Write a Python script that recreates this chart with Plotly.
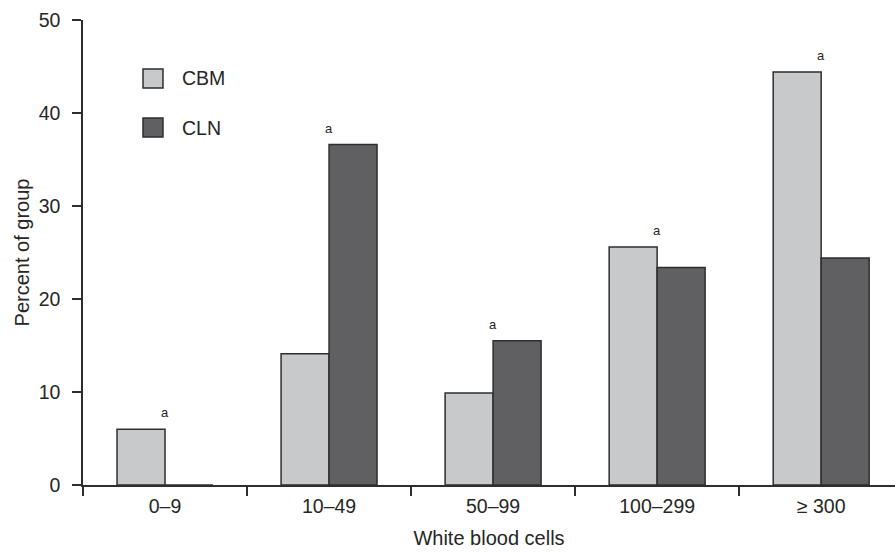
import plotly.graph_objects as go

categories = ["0–9", "10–49", "50–99", "100–299", "≥ 300"]
series_names = ["CBM", "CLN"]
cbm_values = [6.0, 14.1, 9.9, 25.6, 44.4]
cln_values = [0.0, 36.6, 15.5, 23.4, 24.4]
sig_marks = ["a", "a", "a", "a", "a"]
y_ticks = [0, 10, 20, 30, 40, 50]

colors = ["#c8c9cb", "#606062"]
edge = "#2e2e2e"
font_family = "Liberation Sans, Arial, Helvetica, sans-serif"
text_color = "#262626"

fig = go.Figure()
for name, vals, col in zip(series_names, [cbm_values, cln_values], colors):
    fig.add_trace(go.Bar(
        x=categories, y=vals, name=name,
        marker=dict(color=col, line=dict(color=edge, width=1.5)),
        showlegend=False,
    ))

# significance marks above each group
for cat, a, b, mark in zip(categories, cbm_values, cln_values, sig_marks):
    fig.add_annotation(
        x=cat, y=max(a, b), text=mark, showarrow=False,
        xanchor="center", yanchor="bottom", yshift=7,
        font=dict(size=13, color=text_color, family=font_family),
    )

# manual legend (large square swatches)
legend_rows = [0.8742, 0.7688]
for name, col, yc in zip(series_names, colors, legend_rows):
    fig.add_shape(
        type="rect", xref="paper", yref="paper",
        x0=0.0739, x1=0.0985, y0=yc - 0.0205, y1=yc + 0.0205,
        fillcolor=col, line=dict(color=edge, width=1.5),
    )
    fig.add_annotation(
        x=0.1195, y=yc, xref="paper", yref="paper", text=name,
        showarrow=False, xanchor="left", yanchor="middle",
        font=dict(size=19.5, color=text_color, family=font_family),
    )

fig.update_layout(
    width=895, height=552,
    margin=dict(l=83, r=0, t=20, b=67),
    paper_bgcolor="white", plot_bgcolor="white",
    barmode="group", bargap=0.415, bargroupgap=0,
    font=dict(family=font_family, size=19.5, color=text_color),
    xaxis=dict(
        type="category", range=[-0.5, 4.45], automargin=False,
        tickson="boundaries", ticks="outside", ticklen=9, tickwidth=1.5,
        tickcolor=edge, showline=True, linecolor=edge, linewidth=1.5,
        showgrid=False, zeroline=False, ticklabelstandoff=3,
        title=dict(text="White blood cells", standoff=15,
                   font=dict(size=20, color=text_color)),
        tickfont=dict(size=19.5, color=text_color),
    ),
    yaxis=dict(
        range=[0, 50], tickvals=y_ticks, ticks="outside", ticklen=9,
        automargin=False,
        tickwidth=1.5, tickcolor=edge, showline=True, linecolor=edge,
        linewidth=1.5, showgrid=False, zeroline=False, ticklabelstandoff=8,
        title=dict(text="Percent of group", standoff=4,
                   font=dict(size=20, color=text_color)),
        tickfont=dict(size=19.5, color=text_color),
    ),
)

fig.write_html(
    "out.html",
    config={"displayModeBar": False},
    post_script="document.body.style.margin='0';document.body.style.overflow='hidden';",
)
